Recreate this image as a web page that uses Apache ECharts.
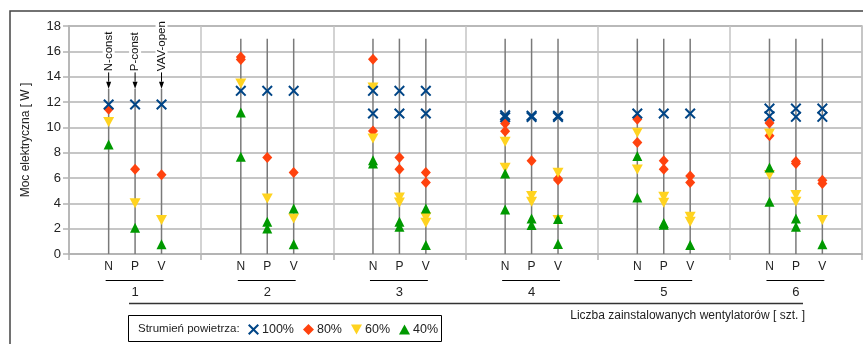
<!DOCTYPE html>
<html><head><meta charset="utf-8">
<script src="https://cdn.jsdelivr.net/npm/echarts/dist/echarts.min.js"></script>
<style>html,body{margin:0;padding:0;background:#fff}#c{width:863px;height:344px}</style>
</head><body><div id="c"></div><script>
const groups = ['1','2','3','4','5','6'];
const types = ['N','P','V'];
const annotLabels = ['N-const','P-const','VAV-open'];
const seriesNames = ['100%','80%','60%','40%'];
// values per category: g1N,g1P,g1V, g2N,g2P,g2V, ... (two measurement sets a/b)
const v100a = [11.8,11.8,11.8, 12.88,12.88,12.88, 12.88,12.88,12.88, 10.95,10.92,10.92, 11.09,11.09,11.09, 11.48,11.48,11.48];
const v100b = [null,null,null, null,null,null, 11.09,11.09,11.09, 10.8,10.82,10.82, null,null,null, 10.88,10.83,10.83];
const v80a = [11.43,6.7,6.25, 15.56,7.62,6.44, 15.37,7.62,6.44, 10.3,7.36,5.95, 10.64,7.36,6.15, 10.35,7.3,5.83];
const v80b = [null,null,null, 15.35,null,null, 9.72,6.7,5.65, 9.7,null,5.85, 8.8,6.7,5.65, 9.33,7.15,5.57];
const v60a = [10.43,4.0,2.68, 13.46,4.39,2.81, 13.14,4.47,2.89, 8.86,4.57,6.41, 9.57,4.52,2.94, 9.51,4.65,2.68];
const v60b = [null,null,null, null,null,null, 9.12,4.07,2.47, 6.81,4.13,2.68, 6.68,4.05,2.55, 6.23,4.13,null];
const v40a = [8.65,2.08,0.76, 11.17,2.55,3.6, 7.4,2.55,3.6, 6.36,2.81,2.76, 7.73,2.45,0.71, 6.83,2.81,0.76];
const v40b = [null,null,null, 7.67,2.02,0.76, 7.15,2.15,0.71, 3.52,2.29,0.79, 4.47,2.3,null, 4.13,2.15,null];
const lineTop = 17;
const arrowTop = 13.6, arrowTip = 13.05, annotBase = 14.35;

const FONT = '"Liberation Sans", Arial, sans-serif';
const cats = [];
groups.forEach(() => { cats.push(''); types.forEach(t => cats.push(t)); cats.push(''); });
const catIndex = k => Math.floor(k / 3) * 5 + 1 + (k % 3);
function pts(a, b) {
  const out = [];
  a.forEach((v, k) => { if (v != null) out.push([catIndex(k), v]); });
  b.forEach((v, k) => { if (v != null) out.push([catIndex(k), v]); });
  return out;
}
const X_PATH = 'path://M1.3,0 L5,3.7 L8.7,0 L10,1.3 L6.3,5 L10,8.7 L8.7,10 L5,6.3 L1.3,10 L0,8.7 L3.7,5 L0,1.3 Z';
const TRI_DOWN = 'path://M0,0 L10,0 L5,9 Z';
const TRI_UP = 'path://M5,0 L10,9 L0,9 Z';
const colors = ['#004586', '#ff420e', '#ffd320', '#009900'];

function renderGuide(params, api) {
  const idx = api.value(0);
  const g = Math.floor(idx / 5), t = idx % 5 - 1;
  const base = api.coord([idx, 0]);
  const x = base[0];
  const ch = [];
  const ls = { stroke: '#7a7a7a', lineWidth: 1.5 };
  if (g === 0) {
    const tip = api.coord([idx, arrowTip]), ta = api.coord([idx, arrowTop]), an = api.coord([idx, annotBase]);
    ch.push({ type: 'line', shape: { x1: x, y1: base[1], x2: x, y2: tip[1] }, style: ls });
    ch.push({ type: 'line', shape: { x1: x, y1: ta[1], x2: x, y2: an[1] }, style: { stroke: '#000', lineWidth: 1 } });
    ch.push({ type: 'polygon', shape: { points: [[x - 2.5, ta[1]], [x + 2.5, ta[1]], [x, tip[1]]] }, style: { fill: '#000' } });
    ch.push({ type: 'text', x: x, y: an[1], rotation: Math.PI / 2,
      style: { text: annotLabels[t], align: 'left', verticalAlign: 'middle', font: '11.5px ' + FONT, fill: '#111',
        backgroundColor: '#fff', padding: [0, 1] } });
  } else {
    const top = api.coord([idx, lineTop]);
    ch.push({ type: 'line', shape: { x1: x, y1: base[1], x2: x, y2: top[1] }, style: ls });
  }
  if (t === 0) {
    const v = api.coord([idx + 2, 0]);
    ch.push({ type: 'line', shape: { x1: x - 3, y1: base[1] + 26.5, x2: v[0] + 2, y2: base[1] + 26.5 }, style: { stroke: '#000', lineWidth: 1 } });
  }
  return { type: 'group', children: ch };
}

const chart = echarts.init(document.getElementById('c'), null, { renderer: 'canvas' });
const guideData = [];
for (let k = 0; k < 18; k++) guideData.push([catIndex(k), 0]);

const sets = [[v100a, v100b], [v80a, v80b], [v60a, v60b], [v40a, v40b]];
const symbols = [X_PATH, 'diamond', TRI_DOWN, TRI_UP];
const sizes = [[11, 11], [10, 11], [11, 10], [10, 10]];
const zs = [9, 6, 7, 8];

const scatter = seriesNames.map((n, i) => ({
  name: n, type: 'scatter', xAxisIndex: 0, yAxisIndex: 0,
  data: pts(sets[i][0], sets[i][1]),
  symbol: symbols[i], symbolSize: sizes[i],
  itemStyle: { color: colors[i], opacity: 1 }, z: zs[i],
  emphasis: { disabled: true }
}));

chart.setOption({
  animation: false,
  textStyle: { fontFamily: FONT },
  grid: { left: 69, right: 1, top: 26, bottom: 90, show: true, borderColor: '#b8b8b8', borderWidth: 1.5, outerBoundsMode: 'none' },
  xAxis: [{
    type: 'category', data: cats, boundaryGap: true, position: 'bottom',
    axisLine: { show: true, lineStyle: { color: '#b3b3b3', width: 1.5 } },
    axisTick: { show: true, interval: (i) => i % 5 === 0, length: 6, lineStyle: { color: '#b3b3b3', width: 1.5 } },
    axisLabel: { interval: 0, margin: 7, fontSize: 12, color: '#222', fontFamily: FONT },
    splitLine: { show: true, interval: (i) => i % 5 === 0, lineStyle: { color: '#c4c4c4', width: 1.5 } }
  }, {
    type: 'category', data: groups, position: 'bottom', offset: 24,
    axisLine: { show: false }, axisTick: { show: false }, splitLine: { show: false },
    axisLabel: { interval: 0, margin: 8, fontSize: 13, color: '#222', fontFamily: FONT }
  }],
  yAxis: {
    type: 'value', min: 0, max: 18, interval: 2,
    name: 'Moc elektryczna [ W ]', nameLocation: 'middle', nameRotate: 90, nameGap: 37,
    nameTextStyle: { fontSize: 12, color: '#222', fontFamily: FONT },
    axisLine: { show: true, lineStyle: { color: '#b3b3b3', width: 1.5 } },
    axisTick: { show: true, length: 6, lineStyle: { color: '#b3b3b3', width: 1.5 } },
    axisLabel: { fontSize: 13, color: '#222', margin: 8, fontFamily: FONT },
    splitLine: { show: true, lineStyle: { color: '#b3b3b3', width: 1.5 } }
  },
  legend: {
    data: seriesNames, left: 248, top: 323, padding: 0, itemGap: 9, itemWidth: 11, itemHeight: 11,
    textStyle: { fontSize: 12.5, color: '#222', fontFamily: FONT, padding: [0, 0, 0, -2] }, selectedMode: false
  },
  graphic: [
    { type: 'rect', shape: { x: 10, y: 11, width: 900, height: 400 }, style: { fill: 'none', stroke: '#444', lineWidth: 1.5 }, silent: true },
    { type: 'rect', shape: { x: 128.5, y: 315.5, width: 313, height: 26 }, style: { fill: 'none', stroke: '#000', lineWidth: 1 }, silent: true },
    { type: 'text', x: 138, y: 328.5, style: { text: 'Strumień powietrza:', font: '11.5px ' + FONT, fill: '#222', verticalAlign: 'middle' }, silent: true },
    { type: 'line', shape: { x1: 129, y1: 303.5, x2: 803, y2: 303.5 }, style: { stroke: '#333', lineWidth: 1.5 }, silent: true },
    { type: 'text', x: 805, y: 316, style: { text: 'Liczba zainstalowanych wentylatorów [ szt. ]', font: '12px ' + FONT, fill: '#222', align: 'right', verticalAlign: 'middle' }, silent: true }
  ],
  series: [{
    type: 'custom', name: 'guides', xAxisIndex: 0, yAxisIndex: 0, data: guideData,
    encode: { x: 0, y: 1 }, renderItem: renderGuide, clip: false, z: 2, silent: true
  }].concat(scatter)
});
</script></body></html>
